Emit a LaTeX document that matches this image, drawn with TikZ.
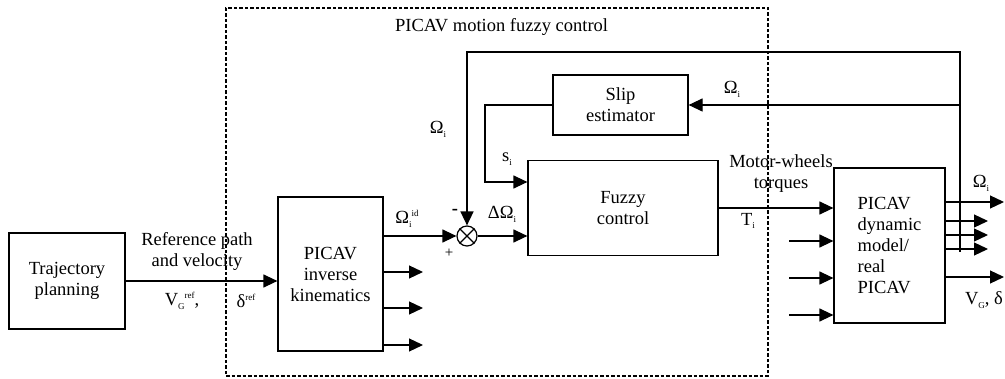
\documentclass[tikz,border=0pt]{standalone}
\usepackage{fontspec}
\setmainfont{Liberation Serif}
\usetikzlibrary{arrows.meta,positioning}
\newcommand{\sbs}[1]{\raisebox{-0.45ex}{\fontsize{9}{9}\selectfont #1}}
\newcommand{\sps}[1]{\raisebox{0.85ex}{\fontsize{9}{9}\selectfont #1}}
\tikzset{
  blk/.style={draw,rectangle,line width=1.2pt,align=center,inner sep=0pt},
  arr/.style={-{Triangle[length=14pt,width=13pt]},line width=1.2pt},
  fbk/.style={arr,line width=1.6pt},
  sumnode/.style={circle,draw,line width=1.2pt,minimum size=20pt,inner sep=0pt},
  frame/.style={draw,line width=1.6pt,dash pattern=on 3.5pt off 2pt,inner sep=0pt},
  lbl/.style={inner sep=0pt,align=center}
}

\begin{document}
\begin{tikzpicture}[x=1pt,y=-1pt,font=\fontsize{18.5}{21}\selectfont]
  \useasboundingbox (0,0) rectangle (1005,379);
  \node[frame, minimum width=542pt, minimum height=368pt] (ctrl) at (497,192) {};
  \node[lbl, anchor=west] (ttl) at (395,27) {PICAV motion fuzzy control};

  \node[blk, minimum width=116pt, minimum height=96pt] (traj) at (67,281) {Trajectory\\planning};
  \node[blk, minimum width=105pt, minimum height=154pt] (invk) at (330.5,274) {PICAV\\inverse\\kinematics};
  \node[sumnode] (sum) at (467,236) {};
  \node[blk, minimum width=190pt, minimum height=95pt] (fuzzy) at (623,208) {Fuzzy\\control};
  \node[blk, minimum width=135pt, minimum height=60pt] (slip) at (620.5,105) {Slip\\estimator};
  \node[blk, minimum width=111pt, minimum height=155pt, align=left] (dyn) at (889.5,245.5) {PICAV\\dynamic\\model/\\real\\PICAV};

  \coordinate (fbr) at (960,252);
  \coordinate (fbt) at (960,52);
  \coordinate (si) at (485,182);

  % labels
  \node[lbl] (refl) at (197,251) {Reference path\\and velocity};
  \node[lbl] (vref) at (182,301) {V\sbs{G}\sps{ref},};
  \node[lbl] (dref) at (246,301) {δ\sps{ref}};
  \node[lbl] (wid) at (407,219) {Ω\sbs{i}\sps{id}};
  \node[lbl] (minus) at (455,212) {\textbf{-}};
  \node[lbl] (plus) at (449,253) {\fontsize{15}{15}\selectfont +};
  \node[lbl] (dw) at (502,214) {ΔΩ\sbs{i}};
  \node[lbl] (wl) at (438,129) {Ω\sbs{i}};
  \node[lbl] (sl) at (507,159) {s\sbs{i}};
  \node[lbl] (ws) at (732,89) {Ω\sbs{i}};
  \node[lbl] (mwt) at (781,174) {Motor-wheels\\torques};
  \node[lbl] (tl) at (748,221) {T\sbs{i}};
  \node[lbl] (wo) at (981,183) {Ω\sbs{i}};
  \node[lbl] (vo) at (984,300) {V\sbs{G}, δ};

  % connectors
  \draw[arr] (traj.east) -- (invk.west |- traj.east);
  \draw[arr] (invk.east |- sum) -- (sum.west);
  \foreach \y [count=\k] in {272,308,345} {
    \coordinate (ko\k) at (423,\y);
    \draw[arr] (invk.east |- ko\k) -- (ko\k);
  }
  \draw[line width=1.2pt] (sum.north west) -- (sum.south east) (sum.north east) -- (sum.south west);
  \draw[arr] (sum.east) -- (fuzzy.west |- sum);
  \draw[arr] (fuzzy.east) -- (dyn.west |- fuzzy.east);
  \foreach \y [count=\k] in {241,278,315} {
    \coordinate (di\k) at (789,\y);
    \draw[arr] (di\k) -- (dyn.west |- di\k);
  }
  \foreach \y [count=\k] in {221,235,249} {
    \coordinate (do\k) at (988,\y);
    \draw[arr] (dyn.east |- do\k) -- (do\k);
  }
  \coordinate (wout) at (1004,202);
  \coordinate (vout) at (1004,277);
  \draw[arr] (dyn.east |- wout) -- (wout);
  \draw[arr] (dyn.east |- vout) -- (vout);
  \draw[fbk] (fbr) -- (fbt) -| (sum.north);
  \draw[arr] (fbr |- slip.east) -- (slip.east);
  \draw[arr] (slip.west) -| (si) -- (fuzzy.west |- si);
\end{tikzpicture}
\end{document}
